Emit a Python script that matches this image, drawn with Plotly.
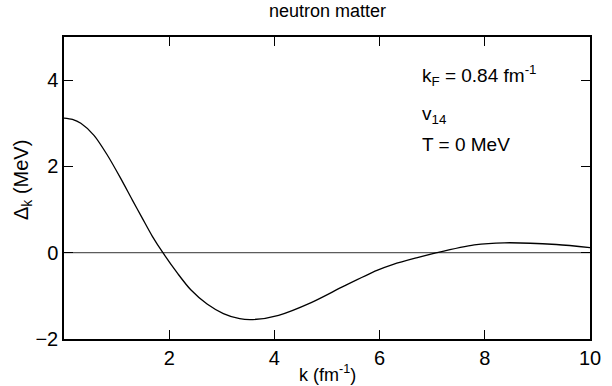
import plotly.graph_objects as go

k_vals = [0, 0.16, 0.32, 0.57, 0.82, 1.07, 1.30, 1.48, 1.68, 1.88, 2.16, 2.41, 2.72, 3.03, 3.34, 3.59,
          4.08, 4.71, 5.33, 5.95, 6.26, 6.7, 7.09, 7.8, 8.37, 9.36, 10]
delta_vals = [3.12, 3.09, 3.00, 2.72, 2.27, 1.74, 1.22, 0.82, 0.38, 0.0, -0.48, -0.86, -1.19, -1.41, -1.53, -1.55,
              -1.45, -1.15, -0.77, -0.41, -0.27, -0.12, 0.0, 0.18, 0.23, 0.19, 0.12]
x_ticks = [2, 4, 6, 8, 10]
y_ticks = [-2, 0, 2, 4]
zero_x = [0, 10]
zero_y = [0, 0]

FONT = "Liberation Sans"

fig = go.Figure()
fig.add_trace(go.Scatter(x=zero_x, y=zero_y, mode="lines",
                         line=dict(color="#333", width=1), hoverinfo="skip"))
fig.add_trace(go.Scatter(x=k_vals, y=delta_vals, mode="lines",
                         line=dict(color="black", width=1.3, shape="spline", smoothing=0.8)))

axis_common = dict(showgrid=False, zeroline=False, showline=True, linecolor="black",
                   linewidth=1.5, ticks="inside", ticklen=9, tickwidth=1.2,
                   tickcolor="black", mirror="ticks",
                   tickfont=dict(family=FONT, size=20, color="black"))
fig.update_xaxes(range=[0, 10], tickvals=x_ticks, ticktext=[str(v) for v in x_ticks], **axis_common)
fig.update_yaxes(range=[-2, 5], tickvals=y_ticks, ticktext=[str(v) if v >= 0 else "\u2212" + str(-v) for v in y_ticks], **axis_common)

fig.update_layout(
    width=612, height=386,
    margin=dict(l=64, r=11, t=37, b=47),
    paper_bgcolor="white", plot_bgcolor="white",
    showlegend=False,
    font=dict(family=FONT, color="black"),
    annotations=[
        dict(text="neutron matter", xref="paper", yref="paper", x=0.5, y=1.0,
             xanchor="center", yanchor="bottom", yshift=14, showarrow=False,
             font=dict(size=18)),
        dict(text="k (fm<sup>-1</sup>)", xref="paper", yref="paper", x=0.5, y=0,
             xanchor="center", yanchor="top", yshift=-21, showarrow=False,
             font=dict(size=18)),
        dict(text="\u0394<sub>k</sub> (MeV)", xref="paper", yref="paper", x=0, y=0.5,
             xanchor="center", yanchor="middle", xshift=-42, yshift=8, textangle=-90,
             showarrow=False, font=dict(size=20)),
        dict(text="k<sub>F</sub> = 0.84 fm<sup>-1</sup>", xref="x", yref="y", x=6.76, y=4.1,
             xanchor="left", yanchor="middle", showarrow=False, font=dict(size=19)),
        dict(text="v<sub>14</sub>", xref="x", yref="y", x=6.76, y=3.2,
             xanchor="left", yanchor="middle", showarrow=False, font=dict(size=19)),
        dict(text="T = 0 MeV", xref="x", yref="y", x=6.76, y=2.5,
             xanchor="left", yanchor="middle", showarrow=False, font=dict(size=19)),
    ],
)

fig.write_html("out.html")
